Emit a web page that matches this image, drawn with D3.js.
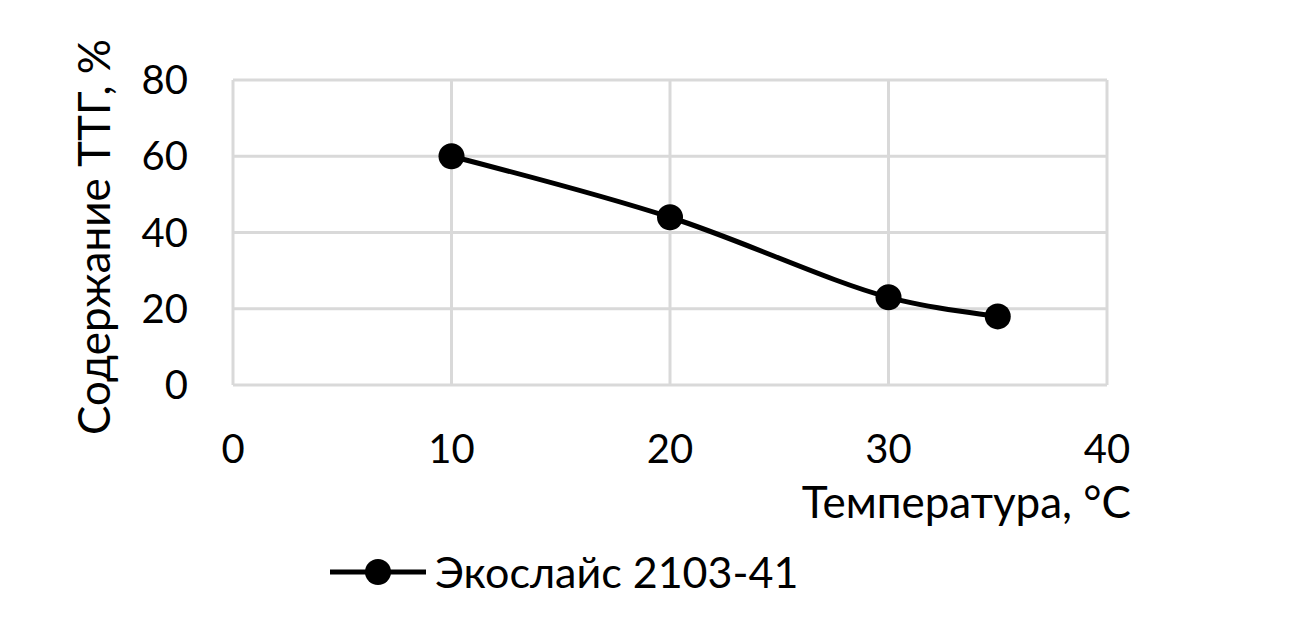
<!DOCTYPE html>
<html>
<head>
    <meta charset="utf-8">
    <title>Содержание ТТГ</title>
    <script src="https://cdn.jsdelivr.net/npm/d3@7"></script>
    <style>
        html, body { margin: 0; padding: 0; background: #fff; }
        svg text { font-family: Lato, "Open Sans", sans-serif; fill: #000; }
        .grid line { stroke: #d9d9d9; stroke-width: 3; }
        .tick-label { font-size: 40px; }
        .title { font-size: 44px; }
        .legend-label { font-size: 43px; }
    </style>
</head>
<body>
<svg></svg>
<script>
    // data
    var temps = [10, 20, 30, 35];
    var ttg = [60, 44, 23, 18];
    var xTicks = [0, 10, 20, 30, 40];
    var yTicks = [0, 20, 40, 60, 80];
    var seriesName = 'Экослайс 2103-41';

    (function () {
        var w = 1312, h = 627;
        var svg = d3.select('svg').attr('width', w).attr('height', h);

        var x = d3.scaleLinear().domain([0, 40]).range([233, 1107]);
        var y = d3.scaleLinear().domain([0, 80]).range([385, 80]);

        // gridlines
        var grid = svg.append('g').attr('class', 'grid');
        grid.selectAll('line.h').data(yTicks).enter().append('line')
            .attr('x1', x(0)).attr('x2', x(40))
            .attr('y1', function (d) { return y(d); })
            .attr('y2', function (d) { return y(d); });
        grid.selectAll('line.v').data(xTicks).enter().append('line')
            .attr('y1', y(0)).attr('y2', y(80))
            .attr('x1', function (d) { return x(d); })
            .attr('x2', function (d) { return x(d); });

        // tick labels
        svg.selectAll('text.ylab').data(yTicks).enter().append('text')
            .attr('class', 'tick-label')
            .attr('x', 188)
            .attr('y', function (d) { return y(d) + 14; })
            .attr('text-anchor', 'end')
            .text(function (d) { return d; });

        svg.selectAll('text.xlab').data(xTicks).enter().append('text')
            .attr('class', 'tick-label')
            .attr('x', function (d) { return x(d); })
            .attr('y', 463)
            .attr('text-anchor', 'middle')
            .text(function (d) { return d; });

        // axis titles
        svg.append('text')
            .attr('class', 'title')
            .attr('transform', 'translate(110,237)rotate(-90)')
            .attr('text-anchor', 'middle')
            .text('Содержание ТТГ, %');

        svg.append('text')
            .attr('class', 'title')
            .attr('x', 1131)
            .attr('y', 518)
            .attr('text-anchor', 'end')
            .text('Температура, °C');

        // series
        var pts = temps.map(function (t, i) { return [t, ttg[i]]; });
        var line = d3.line()
            .x(function (d) { return x(d[0]); })
            .y(function (d) { return y(d[1]); })
            .curve(d3.curveCatmullRom.alpha(0.5));

        svg.append('path')
            .datum(pts)
            .attr('d', line)
            .style('fill', 'none')
            .style('stroke', '#000')
            .style('stroke-width', 5);

        svg.selectAll('circle.pt').data(pts).enter().append('circle')
            .attr('cx', function (d) { return x(d[0]); })
            .attr('cy', function (d) { return y(d[1]); })
            .attr('r', 13)
            .style('fill', '#000');

        // legend
        var lg = svg.append('g').attr('transform', 'translate(330,572)');
        lg.append('line')
            .attr('x1', 0).attr('x2', 96).attr('y1', 0).attr('y2', 0)
            .style('stroke', '#000').style('stroke-width', 5);
        lg.append('circle').attr('cx', 48).attr('cy', 0).attr('r', 13).style('fill', '#000');
        lg.append('text')
            .attr('class', 'legend-label')
            .attr('x', 105)
            .attr('y', 16)
            .text(seriesName);
    })();
</script>
</body>
</html>
